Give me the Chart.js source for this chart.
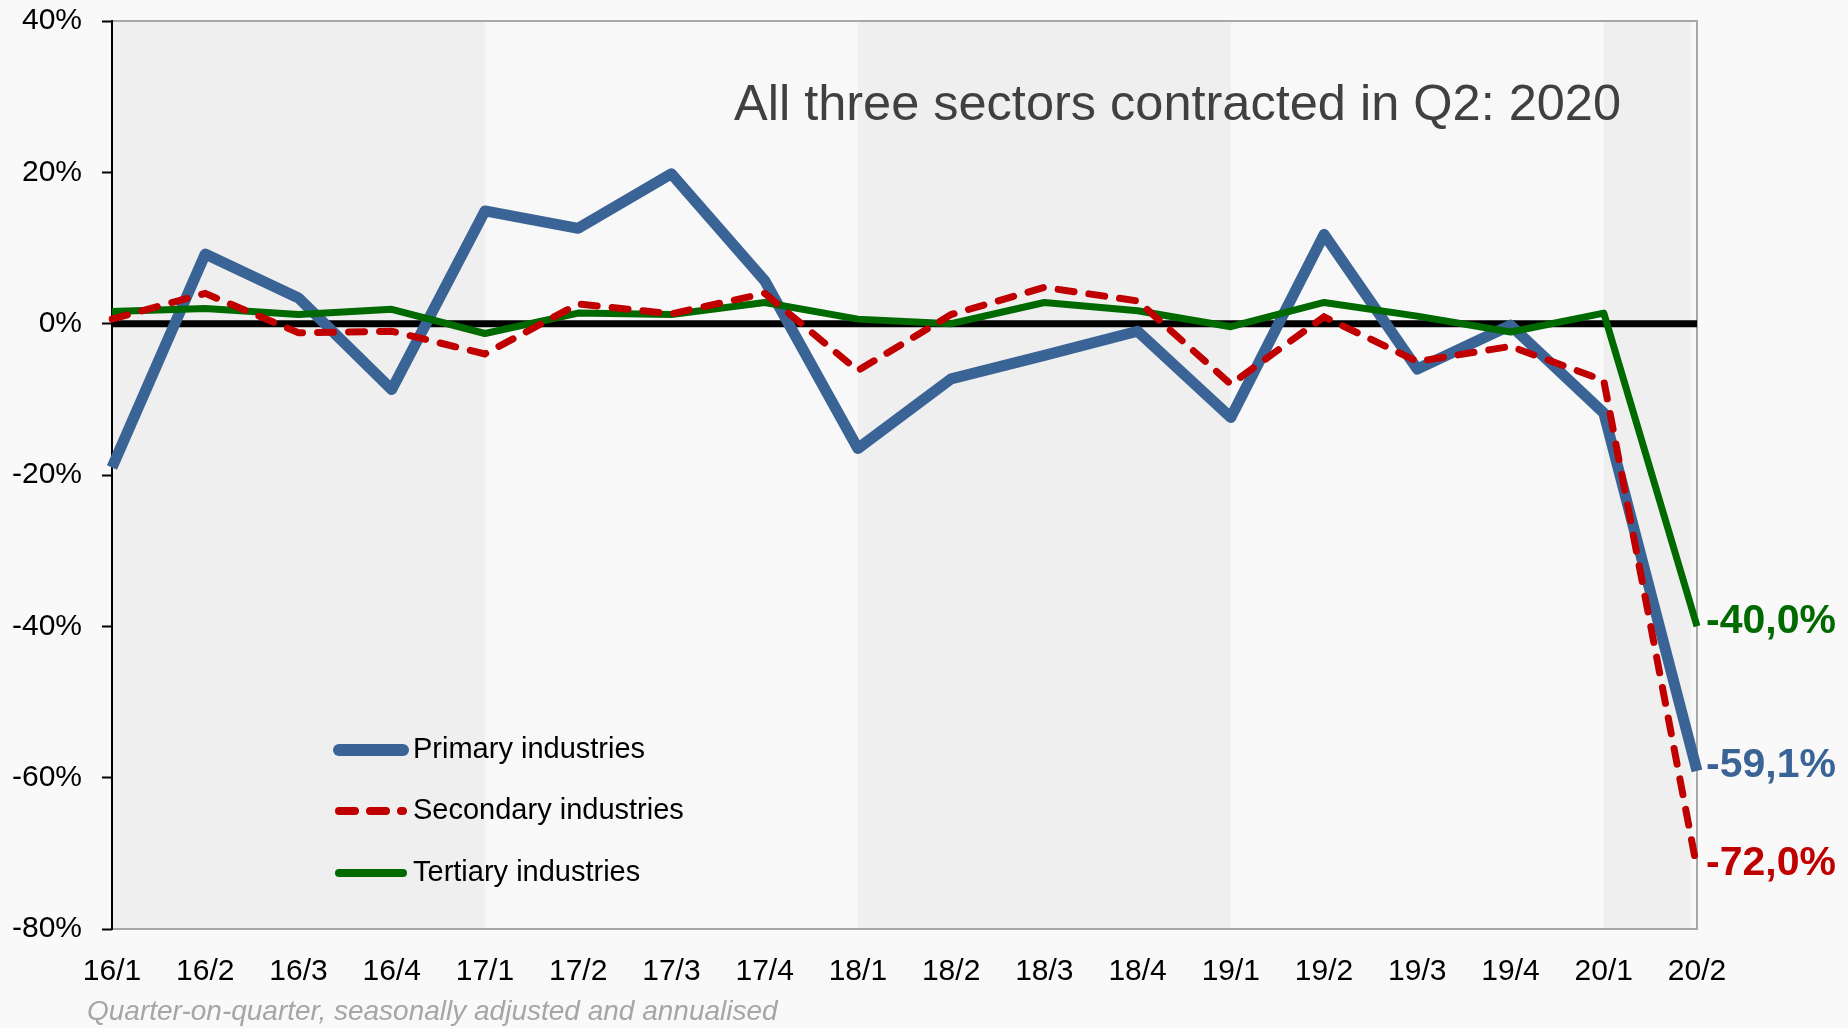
<!DOCTYPE html>
<html lang="en">
<head>
  <meta charset="UTF-8">
  <title>All three sectors contracted in Q2: 2020</title>
  <script src="https://cdn.jsdelivr.net/npm/chart.js@4.4.0/dist/chart.umd.min.js"></script>
  <style>
    html, body { margin: 0; padding: 0; background: #f9f9f9; }
    canvas { display: block; }
  </style>
</head>
<body>
  <canvas id="chart" width="1848" height="1028"></canvas>
  <script>
    // quarters and series (quarter-on-quarter, % annualised)
    const quarters = ['16/1', '16/2', '16/3', '16/4', '17/1', '17/2', '17/3', '17/4',
      '18/1', '18/2', '18/3', '18/4', '19/1', '19/2', '19/3', '19/4', '20/1', '20/2'];
    const primary = [-19.0, 9.2, 3.4, -8.7, 14.9, 12.6, 19.8, 5.7, -16.5, -7.3, -4.2, -1.0,
      -12.4, 11.8, -6.0, -0.2, -11.8, -59.1];
    const secondary = [0.6, 4.0, -1.2, -1.0, -4.0, 2.6, 1.3, 4.0, -6.2, 1.2, 4.8, 3.0,
      -8.0, 0.9, -5.0, -3.0, -7.5, -72.0];
    const tertiary = [1.6, 2.0, 1.2, 1.9, -1.3, 1.4, 1.2, 2.8, 0.6, 0.0, 2.8, 1.7,
      -0.4, 2.8, 1.0, -1.1, 1.4, -40.0];
    const seriesNames = ['Primary industries', 'Secondary industries', 'Tertiary industries'];
    const endLabels = ['-59,1%', '-72,0%', '-40,0%'];
    const shadedYears = ['16', '18', '20'];
    const yMin = -80, yMax = 40, yStep = 20;

    const titleText = 'All three sectors contracted in Q2: 2020';
    const noteText = 'Quarter-on-quarter, seasonally adjusted and annualised';

    const FONT = '"Liberation Sans", Arial, sans-serif';
    const BLUE = '#3a6496', RED = '#c00000', GREEN = '#006a00';

    // year bands, zero line, border, title, legend, end labels, note
    const decorations = {
      id: 'decorations',
      beforeDraw(chart) {
        const ctx = chart.ctx;
        ctx.save();
        ctx.fillStyle = '#f9f9f9';
        ctx.fillRect(0, 0, chart.width, chart.height);
        ctx.restore();
      },
      beforeDatasetsDraw(chart) {
        const { ctx, chartArea: a, scales: { x, y } } = chart;
        ctx.save();
        ctx.fillStyle = '#f8f8f8';
        ctx.fillRect(a.left, a.top, a.right - a.left, a.bottom - a.top);
        // shade every other year
        ctx.fillStyle = '#efefef';
        shadedYears.forEach(yr => {
          const idx = quarters.map((q, i) => q.startsWith(yr + '/') ? i : -1).filter(i => i >= 0);
          const first = idx[0];
          const next = Math.min(idx[idx.length - 1] + 1, quarters.length - 1);
          const x0 = x.getPixelForValue(first);
          let x1 = x.getPixelForValue(next);
          if (next === quarters.length - 1) x1 -= 6;
          ctx.fillRect(x0, a.top, x1 - x0, a.bottom - a.top);
        });
        // plot border
        ctx.strokeStyle = '#a8a8a8';
        ctx.lineWidth = 2;
        ctx.beginPath();
        ctx.moveTo(a.left, a.top);
        ctx.lineTo(a.right, a.top);
        ctx.lineTo(a.right, a.bottom);
        ctx.lineTo(a.left, a.bottom);
        ctx.stroke();
        // zero line
        const y0 = y.getPixelForValue(0);
        ctx.strokeStyle = '#000';
        ctx.lineWidth = 7;
        ctx.beginPath();
        ctx.moveTo(a.left, y0);
        ctx.lineTo(a.right, y0);
        ctx.stroke();
        // left axis
        ctx.lineWidth = 2;
        ctx.beginPath();
        ctx.moveTo(a.left, a.top - 1);
        ctx.lineTo(a.left, a.bottom + 1);
        ctx.stroke();
        // title
        ctx.fillStyle = '#404040';
        ctx.font = '50.5px ' + FONT;
        ctx.textAlign = 'left';
        ctx.textBaseline = 'alphabetic';
        ctx.fillText(titleText, a.left + 622, a.top + 99);
        ctx.restore();
      },
      afterDatasetsDraw(chart) {
        const { ctx } = chart;
        ctx.save();
        // end labels
        ctx.font = 'bold 41px ' + FONT;
        ctx.textAlign = 'left';
        ctx.textBaseline = 'middle';
        chart.data.datasets.forEach((ds, i) => {
          const meta = chart.getDatasetMeta(i);
          const pt = meta.data[meta.data.length - 1];
          ctx.fillStyle = ds.borderColor;
          ctx.fillText(endLabels[i], pt.x + 9, pt.y - 5);
        });
        // legend
        const rows = [750, 811, 873];
        chart.data.datasets.forEach((ds, i) => {
          const ly = rows[i];
          ctx.strokeStyle = ds.borderColor;
          ctx.lineWidth = ds.borderWidth + 1;
          ctx.lineCap = 'round';
          ctx.setLineDash(ds.borderDash || []);
          ctx.beginPath();
          ctx.moveTo(339, ly);
          ctx.lineTo(403, ly);
          ctx.stroke();
          ctx.setLineDash([]);
          ctx.fillStyle = '#000';
          ctx.font = '29px ' + FONT;
          ctx.textBaseline = 'middle';
          ctx.fillText(ds.label, 413, ly);
        });
        // footnote
        ctx.fillStyle = '#a6a6a6';
        ctx.font = 'italic 28px ' + FONT;
        ctx.textBaseline = 'middle';
        ctx.fillText(noteText, 87, 1012);
        ctx.restore();
      }
    };

    new Chart(document.getElementById('chart'), {
      type: 'line',
      data: {
        labels: quarters,
        datasets: [
          { label: seriesNames[0], data: primary, borderColor: BLUE, borderWidth: 11,
            pointRadius: 0, tension: 0, order: 3, borderJoinStyle: 'round' },
          { label: seriesNames[1], data: secondary, borderColor: RED, borderWidth: 7,
            borderDash: [16, 15], borderCapStyle: 'round', pointRadius: 0, tension: 0, order: 1 },
          { label: seriesNames[2], data: tertiary, borderColor: GREEN, borderWidth: 7,
            pointRadius: 0, tension: 0, order: 2, borderJoinStyle: 'round' }
        ]
      },
      options: {
        responsive: false,
        animation: false,
        layout: { padding: { top: 21, right: 151, left: 0, bottom: 0 } },
        plugins: {
          legend: { display: false },
          tooltip: { enabled: false }
        },
        scales: {
          x: {
            offset: false,
            grid: { display: false, drawTicks: false },
            border: { display: false },
            ticks: {
              color: '#000', font: { family: FONT, size: 30 },
              padding: 25, maxRotation: 0, autoSkip: false
            },
            afterFit: s => { s.height = 99; s.paddingLeft = 0; s.paddingRight = 0; }
          },
          y: {
            min: yMin, max: yMax,
            grid: { drawOnChartArea: false, tickLength: 10, tickColor: '#000', tickWidth: 2 },
            border: { display: false },
            ticks: {
              stepSize: yStep, color: '#000', font: { family: FONT, size: 30 }, padding: 20,
              callback: v => v + '%'
            },
            afterFit: s => { s.width = 112; s.paddingTop = 0; s.paddingBottom = 0; }
          }
        }
      },
      plugins: [decorations]
    });
  </script>
</body>
</html>
